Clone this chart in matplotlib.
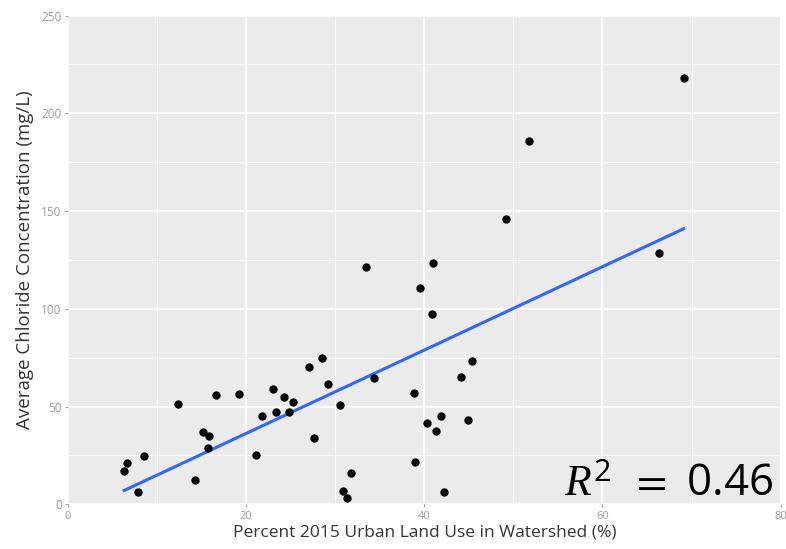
import numpy as np
import matplotlib
matplotlib.use("Agg")
import matplotlib.pyplot as plt
from matplotlib.ticker import MultipleLocator

# Percent urban land use (2015) per watershed and mean chloride concentration
urban_pct = [6.3, 6.6, 8.5, 7.9, 12.3, 14.3, 15.2, 15.8, 15.7, 16.6,
             19.2, 21.1, 21.8, 23.0, 23.4, 24.3, 24.8, 25.3, 27.0, 28.5,
             29.2, 27.6, 30.5, 31.8, 30.9, 31.3, 34.3, 33.5, 39.5, 40.9,
             45.3, 44.1, 38.8, 41.9, 40.3, 41.3, 44.9, 38.9, 42.2, 41.0,
             49.2, 51.8, 66.3, 69.1]
chloride = [17.2, 21.3, 24.7, 6.1, 51.5, 12.4, 37.1, 35.1, 29.0, 56.1,
            56.4, 25.2, 45.0, 58.8, 47.4, 54.9, 47.4, 52.2, 70.4, 74.8,
            61.7, 34.1, 50.6, 16.2, 6.6, 3.2, 64.4, 121.5, 110.5, 97.3,
            73.3, 65.1, 56.8, 45.3, 41.6, 37.5, 43.0, 21.5, 6.1, 123.3,
            145.9, 185.7, 128.7, 218.2]

x_ticks = [0, 20, 40, 60, 80]
y_ticks = [0, 50, 100, 150, 200, 250]
r2_label = "0.46"

plt.rcParams["font.family"] = ["Open Sans", "DejaVu Sans"]
plt.rcParams["mathtext.fontset"] = "custom"
plt.rcParams["mathtext.it"] = "Liberation Serif:italic"
plt.rcParams["mathtext.rm"] = "STIXGeneral"
plt.rcParams["mathtext.sf"] = "Open Sans"

fig = plt.figure(figsize=(7.86, 5.49), dpi=100)
ax = fig.add_axes([0.0865, 0.0814, 0.9067, 0.8902])
ax.set_facecolor("#EBEBEB")

ax.set_xlim(0, 80)
ax.set_ylim(0, 250)
ax.set_xticks(x_ticks)
ax.set_yticks(y_ticks)
ax.xaxis.set_minor_locator(MultipleLocator(10))
ax.yaxis.set_minor_locator(MultipleLocator(25))
ax.grid(which="major", color="white", linewidth=1.3)
ax.grid(which="minor", color="white", linewidth=0.6)
ax.set_axisbelow(True)
for s in ax.spines.values():
    s.set_visible(False)
ax.tick_params(which="major", length=2.5, width=0.8, color="#a0a0a0",
               labelcolor="#9a9a9a", pad=2)
ax.tick_params(axis="x", which="major", labelsize=8)
ax.tick_params(axis="y", which="major", labelsize=8.5)
ax.tick_params(which="minor", length=0)

# Linear least-squares trend across the observed range
xs = np.array(urban_pct)
ys = np.array(chloride)
slope, intercept = np.polyfit(xs, ys, 1)
xl = np.array([xs.min(), xs.max()])
ax.plot(xl, slope * xl + intercept, color="#3366FF", linewidth=2.2, zorder=2)

ax.scatter(xs, ys, s=36, color="black", zorder=3, linewidths=0)

ax.set_xlabel("Percent 2015 Urban Land Use in Watershed (%)",
              fontsize=12.5, color="#333333", labelpad=2)
ax.set_ylabel("Average Chloride Concentration (mg/L)",
              fontsize=13.5, color="#333333", labelpad=5)

ax.text(0.989, 0.018,
        r"$R^{\mathsf{2}}\;\;=\;\,\mathsf{" + r2_label + "}$",
        transform=ax.transAxes, ha="right", va="baseline",
        fontsize=31.5, color="black")

fig.savefig("out.png", dpi=100)
